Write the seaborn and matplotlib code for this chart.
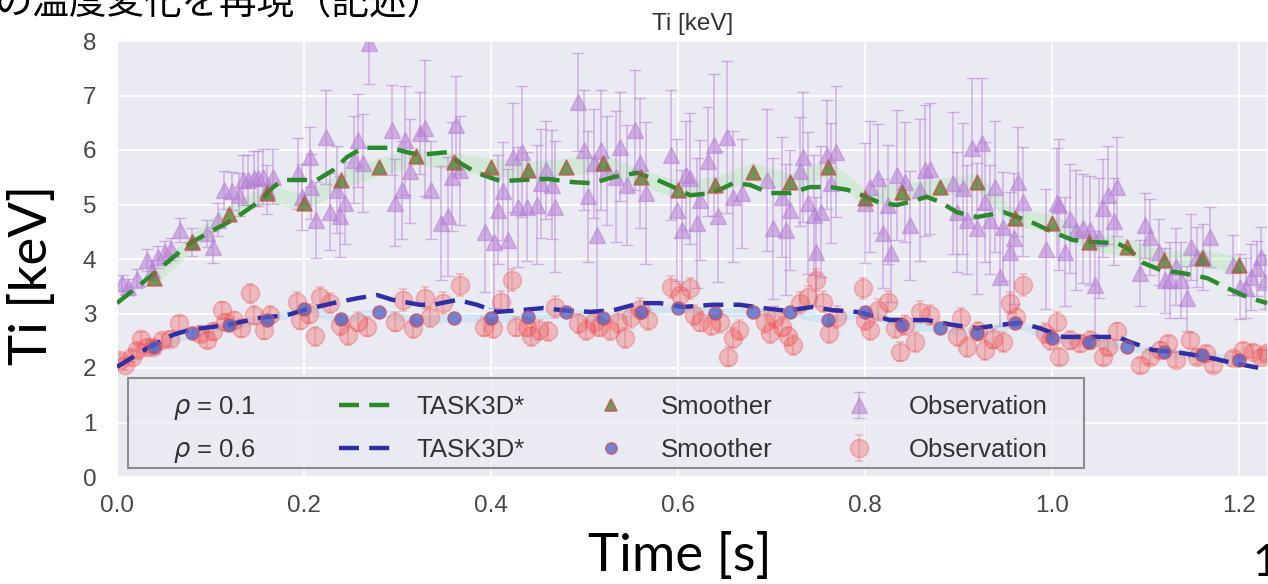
import matplotlib
matplotlib.use("Agg")
import matplotlib.pyplot as plt
from matplotlib.lines import Line2D
from matplotlib.patches import Rectangle
from matplotlib.offsetbox import DrawingArea
import numpy as np
import seaborn as sns

# ---------------- data ----------------
# rho = 0.1 : observed ion temperature (time [s], Ti [keV], error [keV])
core_obs_t = [0.005, 0.012, 0.021, 0.032, 0.037, 0.044, 0.051, 0.058, 0.067, 0.080,
              0.096, 0.103, 0.108, 0.114, 0.123, 0.131, 0.135, 0.140, 0.146, 0.151,
              0.156, 0.160, 0.167, 0.194, 0.198, 0.206, 0.207, 0.213, 0.224, 0.228,
              0.235, 0.238, 0.244, 0.253, 0.258, 0.263, 0.269, 0.294, 0.297, 0.305,
              0.308, 0.313, 0.324, 0.329, 0.336, 0.347, 0.354, 0.358, 0.363, 0.367,
              0.394, 0.403, 0.408, 0.413, 0.418, 0.424, 0.429, 0.433, 0.438, 0.449,
              0.454, 0.459, 0.465, 0.468, 0.493, 0.499, 0.504, 0.510, 0.513, 0.518,
              0.524, 0.534, 0.538, 0.545, 0.554, 0.559, 0.566, 0.593, 0.599, 0.604,
              0.609, 0.613, 0.620, 0.624, 0.632, 0.638, 0.643, 0.652, 0.659, 0.668,
              0.695, 0.702, 0.711, 0.715, 0.720, 0.730, 0.734, 0.739, 0.745, 0.748,
              0.753, 0.759, 0.764, 0.769,
              0.800, 0.805, 0.814, 0.819, 0.825, 0.828, 0.834, 0.843, 0.848, 0.859,
              0.864, 0.870, 0.894, 0.898, 0.905, 0.909, 0.914, 0.920, 0.925, 0.928,
              0.934, 0.939, 0.944, 0.948, 0.955, 0.959, 0.964, 0.969, 0.994, 1.005,
              1.008, 1.014, 1.019, 1.026, 1.033, 1.041, 1.046, 1.050, 1.055, 1.060,
              1.066, 1.069, 1.094, 1.099, 1.105, 1.114, 1.121, 1.126, 1.133, 1.138,
              1.144, 1.149, 1.155, 1.162, 1.169, 1.194, 1.201, 1.208, 1.213, 1.219,
              1.224, 1.228]
core_obs_ti = [3.56, 3.49, 3.64, 3.98, 3.80, 4.04, 4.13, 4.19, 4.53, 4.31,
               4.47, 4.22, 4.72, 5.27, 5.24, 5.18, 5.45, 5.45, 5.48, 5.48,
               5.51, 5.27, 5.51, 5.57, 5.14, 5.87, 5.33, 4.72, 6.24, 4.87,
               5.27, 4.78, 5.03, 5.82, 6.18, 5.76, 7.96, 6.37, 5.03, 5.27,
               6.18, 5.61, 6.31, 6.40, 5.27, 4.66, 4.78, 5.51, 6.46, 5.63,
               4.50, 4.31, 4.90, 5.24, 4.35, 5.87, 4.96, 5.97, 4.96, 5.00,
               5.39, 5.63, 5.36, 4.96, 6.88, 6.00, 5.15, 5.76, 4.44, 6.00,
               5.63, 5.51, 6.06, 5.36, 6.37, 5.76, 5.21, 5.91, 4.90, 4.54,
               5.54, 5.48, 4.66, 5.08, 5.79, 6.09, 4.78, 6.24, 5.14, 5.21,
               5.45, 4.56, 5.14, 4.54, 4.90, 5.61, 5.87, 5.03, 4.81, 4.13,
               4.87, 5.91, 5.39, 5.97,
               5.03, 5.33, 5.48, 4.47, 5.00, 4.11, 5.54, 5.42, 4.62, 5.27,
               5.63, 5.66, 5.39, 4.87, 5.30, 4.72, 6.03, 4.56, 6.12, 5.05,
               4.72, 5.33, 3.67, 4.59, 4.13, 4.38, 5.42, 5.05, 4.19, 5.03,
               5.00, 4.13, 4.74, 4.53, 4.56, 4.53, 3.52, 4.38, 4.93, 5.18,
               4.69, 5.33, 3.74, 4.62, 4.40, 4.13, 3.61, 3.61, 3.86, 3.61,
               3.28, 4.22, 4.04, 4.04, 4.40, 3.89, 3.49, 3.46, 3.67, 3.83,
               4.04, 3.58]
core_obs_err = [0.15, 0.15, 0.18, 0.20, 0.18, 0.20, 0.20, 0.20, 0.22, 0.25,
                0.25, 0.30, 0.30, 0.35, 0.35, 0.40, 0.45, 0.45, 0.50, 0.50,
                0.50, 0.45, 0.50, 0.65, 0.60, 0.55, 0.60, 0.70, 0.86, 0.70,
                0.80, 0.75, 0.75, 0.80, 0.85, 0.90, 0.75, 0.82, 0.80, 0.90,
                1.00, 0.95, 0.75, 1.25, 0.90, 1.05, 1.10, 1.00, 0.90, 1.00,
                1.10, 1.20, 1.00, 0.90, 1.30, 1.00, 1.10, 1.20, 1.00, 1.10,
                1.00, 0.90, 1.00, 1.20, 0.90, 1.10, 1.20, 1.00, 1.40, 1.10,
                1.00, 1.20, 1.00, 1.10, 1.10, 1.20, 1.30, 1.20, 1.30, 1.10,
                1.00, 1.20, 1.20, 1.10, 1.00, 1.30, 1.20, 1.40, 1.20, 1.00,
                1.30, 1.30, 1.10, 1.20, 1.10, 1.00, 1.20, 1.30, 1.10, 1.00,
                1.20, 1.00, 1.10, 1.20,
                1.10, 1.20, 1.00, 1.00, 1.10, 0.90, 1.20, 1.10, 1.00, 1.30,
                1.20, 1.20, 1.30, 1.10, 1.20, 1.00, 1.30, 1.20, 1.20, 1.10,
                1.00, 1.20, 0.90, 1.00, 1.10, 1.20, 1.00, 1.00, 1.10, 1.00,
                1.20, 1.00, 1.00, 1.10, 1.00, 1.00, 1.00, 1.10, 0.90, 0.90,
                0.80, 0.90, 0.60, 0.60, 0.70, 0.60, 0.60, 0.70, 0.70, 0.70,
                0.60, 0.60, 0.55, 0.60, 0.55, 0.55, 0.60, 0.55, 0.60, 0.50,
                0.55, 0.50]

# rho = 0.6 : observed ion temperature
mid_obs_t = [0.003, 0.009, 0.016, 0.021, 0.026, 0.032, 0.039, 0.048, 0.057, 0.066,
             0.089, 0.096, 0.103, 0.112, 0.116, 0.125, 0.133, 0.142, 0.146, 0.157,
             0.164, 0.192, 0.196, 0.205, 0.212, 0.217, 0.228, 0.238, 0.247, 0.258,
             0.267, 0.297, 0.306, 0.317, 0.329, 0.335, 0.349, 0.367,
             0.392, 0.402, 0.411, 0.422, 0.427, 0.438, 0.443, 0.451, 0.461, 0.468,
             0.493, 0.502, 0.510, 0.515, 0.527, 0.536, 0.543, 0.550, 0.559, 0.568,
             0.593, 0.602, 0.613, 0.617, 0.624, 0.635, 0.645, 0.654, 0.659, 0.665,
             0.693, 0.698, 0.704, 0.711, 0.718, 0.723, 0.730, 0.739, 0.748, 0.755,
             0.761, 0.770, 0.800,
             0.798, 0.805, 0.814, 0.825, 0.832, 0.837, 0.843, 0.853, 0.859, 0.870,
             0.898, 0.903, 0.909, 0.921, 0.928, 0.937, 0.948, 0.955, 0.962, 0.969,
             0.992, 0.998, 1.005, 1.008, 1.019, 1.030, 1.041, 1.055, 1.060, 1.069,
             1.094, 1.105, 1.116, 1.124, 1.133, 1.148, 1.155, 1.165, 1.172, 1.194,
             1.204, 1.215, 1.223, 1.229]
mid_obs_ti = [2.15, 2.06, 2.21, 2.33, 2.54, 2.39, 2.39, 2.51, 2.54, 2.82,
              2.63, 2.51, 2.67, 3.06, 2.85, 2.88, 2.73, 3.37, 2.97, 2.70,
              2.97, 3.21, 2.88, 3.00, 2.58, 3.31, 3.19, 2.79, 2.61, 2.85,
              2.76, 2.85, 3.25, 2.73, 3.28, 2.94, 3.19, 3.52,
              2.76, 2.73, 3.22, 3.61, 2.76, 2.76, 2.58, 2.70, 2.67, 3.12,
              2.82, 2.70, 2.85, 2.76, 2.70, 2.85, 2.55, 2.94, 3.09, 2.88,
              3.49, 3.34, 3.46, 2.97, 2.85, 2.79, 2.85, 2.21, 2.55, 2.70,
              2.85, 2.64, 2.94, 2.76, 2.58, 2.42, 3.19, 3.31, 3.61, 3.22,
              2.64, 2.94, 2.88,
              3.46, 2.70, 3.06, 3.22, 2.73, 2.30, 2.79, 2.48, 3.03, 2.97,
              2.58, 2.91, 2.39, 2.67, 2.33, 2.54, 2.48, 3.19, 2.94, 3.52,
              2.64, 2.51, 2.85, 2.21, 2.51, 2.45, 2.51, 2.21, 2.39, 2.67,
              2.05, 2.21, 2.33, 2.45, 2.15, 2.51, 2.21, 2.27, 2.05, 2.18,
              2.33, 2.30, 2.21, 2.27]
mid_obs_err = [0.10, 0.10, 0.10, 0.12, 0.12, 0.12, 0.12, 0.12, 0.14, 0.14,
               0.14, 0.15, 0.15, 0.16, 0.15, 0.15, 0.16, 0.18, 0.16, 0.16,
               0.16, 0.18, 0.17, 0.17, 0.18, 0.18, 0.18, 0.18, 0.18, 0.18,
               0.18, 0.18, 0.20, 0.18, 0.20, 0.18, 0.20, 0.20,
               0.18, 0.18, 0.20, 0.20, 0.18, 0.18, 0.18, 0.18, 0.18, 0.20,
               0.18, 0.18, 0.20, 0.18, 0.18, 0.20, 0.18, 0.20, 0.20, 0.18,
               0.20, 0.20, 0.20, 0.18, 0.18, 0.18, 0.20, 0.18, 0.18, 0.18,
               0.20, 0.18, 0.20, 0.18, 0.18, 0.18, 0.20, 0.20, 0.20, 0.20,
               0.18, 0.20, 0.18,
               0.20, 0.18, 0.20, 0.20, 0.18, 0.18, 0.18, 0.18, 0.20, 0.18,
               0.18, 0.20, 0.18, 0.18, 0.18, 0.18, 0.18, 0.20, 0.18, 0.20,
               0.18, 0.18, 0.18, 0.16, 0.16, 0.16, 0.16, 0.16, 0.16, 0.16,
               0.14, 0.14, 0.14, 0.14, 0.14, 0.14, 0.14, 0.14, 0.12, 0.12,
               0.12, 0.12, 0.12, 0.12]

# smoother estimates (every 40 ms)
smooth_t = [0.04, 0.08, 0.12, 0.16, 0.20, 0.24, 0.28, 0.32, 0.36, 0.40,
            0.44, 0.48, 0.52, 0.56, 0.60, 0.64, 0.68, 0.72, 0.76, 0.80,
            0.84, 0.88, 0.92, 0.96, 1.00, 1.04, 1.08, 1.12, 1.16, 1.20]
core_smooth_ti = [3.65, 4.31, 4.83, 5.21, 5.03, 5.45, 5.69, 5.89, 5.78, 5.69,
                  5.63, 5.69, 5.76, 5.50, 5.27, 5.36, 5.60, 5.41, 5.69, 5.12,
                  5.23, 5.32, 5.41, 4.75, 4.66, 4.31, 4.22, 3.98, 4.02, 3.89]
mid_smooth_ti = [2.39, 2.64, 2.79, 2.88, 3.08, 2.90, 3.03, 2.88, 2.92, 2.92,
                 2.94, 3.03, 2.92, 3.03, 3.10, 3.01, 3.03, 3.03, 2.88, 3.03,
                 2.79, 2.73, 2.64, 2.83, 2.55, 2.48, 2.39, 2.29, 2.24, 2.15]
core_band = 0.16
mid_band = 0.08

# TASK3D* simulation
core_sim_t = [0.0, 0.035, 0.078, 0.103, 0.124, 0.150, 0.167, 0.178, 0.196, 0.214,
              0.231, 0.246, 0.263, 0.292, 0.310, 0.324, 0.353, 0.367, 0.385, 0.410,
              0.434, 0.460, 0.488, 0.509, 0.530, 0.556, 0.578, 0.595, 0.613, 0.637,
              0.659, 0.677, 0.698, 0.720, 0.741, 0.763, 0.781, 0.800, 0.816, 0.834,
              0.848, 0.866, 0.880, 0.898, 0.920, 0.948, 0.963, 0.980, 1.000, 1.022,
              1.044, 1.070, 1.083, 1.097, 1.116, 1.140, 1.166, 1.187, 1.209, 1.230]
core_sim_ti = [3.19, 3.67, 4.29, 4.53, 4.72, 5.03, 5.32, 5.45, 5.45, 5.45,
               5.63, 5.87, 6.04, 6.04, 5.96, 5.91, 5.96, 5.76, 5.58, 5.43,
               5.45, 5.47, 5.41, 5.39, 5.50, 5.58, 5.45, 5.32, 5.17, 5.21,
               5.39, 5.36, 5.21, 5.21, 5.32, 5.32, 5.27, 5.15, 5.03, 4.99,
               5.05, 5.14, 5.05, 4.86, 4.77, 4.86, 4.77, 4.66, 4.50, 4.35,
               4.31, 4.29, 4.17, 3.93, 3.80, 3.74, 3.65, 3.47, 3.30, 3.19]
mid_sim_t = [0.0, 0.035, 0.060, 0.078, 0.118, 0.153, 0.182, 0.199, 0.231, 0.257,
             0.278, 0.295, 0.324, 0.338, 0.364, 0.385, 0.406, 0.431, 0.456, 0.477,
             0.506, 0.531, 0.559, 0.581, 0.605, 0.637, 0.666, 0.691, 0.716, 0.744,
             0.766, 0.791, 0.813, 0.827, 0.866, 0.894, 0.920, 0.944, 0.966, 0.987,
             1.012, 1.037, 1.070, 1.083, 1.108, 1.137, 1.166, 1.194, 1.222]
mid_sim_ti = [2.02, 2.39, 2.61, 2.70, 2.79, 2.92, 2.97, 3.06, 3.19, 3.28,
              3.34, 3.25, 3.16, 3.16, 3.25, 3.16, 3.03, 3.06, 3.10, 3.06,
              3.03, 3.06, 3.19, 3.19, 3.12, 3.16, 3.16, 3.10, 3.05, 3.12,
              3.06, 3.03, 2.94, 2.88, 2.88, 2.79, 2.73, 2.79, 2.83, 2.73,
              2.57, 2.57, 2.57, 2.48, 2.33, 2.28, 2.20, 2.09, 2.00]

x_ticks = [0.0, 0.2, 0.4, 0.6, 0.8, 1.0, 1.2]
y_ticks = [0, 1, 2, 3, 4, 5, 6, 7, 8]
legend_labels = [r"$\rho$ = 0.1", r"$\rho$ = 0.6", "TASK3D*", "TASK3D*",
                 "Smoother", "Smoother", "Observation", "Observation"]

# ---------------- style ----------------
sns.set_theme(style="darkgrid")
plt.rcParams["font.family"] = ["Liberation Sans", "DejaVu Sans"]
plt.rcParams["axes.facecolor"] = "#EAEAF2"

GREEN = "#2b8a2b"
BLUE = "#2e2ea6"
PURPLE = "#b77fd6"
RED = "#f04848"
DASH = (0, (4.5, 2.3))

W, H = 1268, 584
AX_L, AX_T, AX_B = 117, 41, 477
fig = plt.figure(figsize=(W / 100, H / 100), dpi=100)
ax = fig.add_axes([AX_L / W, (H - AX_B) / H, (W - AX_L) / W, (AX_B - AX_T) / H])

# smoother uncertainty bands
st = np.array(smooth_t)
cs = np.array(core_smooth_ti)
ms_ = np.array(mid_smooth_ti)
ax.fill_between(st, cs - core_band, cs + core_band, color="#9fe79a", alpha=0.3,
                lw=0, zorder=1)
ax.fill_between(st, ms_ - mid_band, ms_ + mid_band, color="#a8d8f0", alpha=0.35,
                lw=0, zorder=1)

# observations with error bars
obs_core = ax.errorbar(core_obs_t, core_obs_ti, yerr=core_obs_err, fmt="^",
                       color=PURPLE, ecolor=PURPLE, alpha=0.55, ms=11, mew=1,
                       elinewidth=1.1, capsize=4, capthick=1.1, zorder=2)
obs_mid = ax.errorbar(mid_obs_t, mid_obs_ti, yerr=mid_obs_err, fmt="o",
                      color=RED, ecolor=RED, alpha=0.3, ms=13, mew=1.2,
                      elinewidth=1.1, capsize=3, capthick=1.1, zorder=2)

# TASK3D* simulated traces
sns.lineplot(x=core_sim_t, y=core_sim_ti, ax=ax, color=GREEN, lw=3.2,
             linestyle=DASH, zorder=4)
sns.lineplot(x=mid_sim_t, y=mid_sim_ti, ax=ax, color=BLUE, lw=3.2,
             linestyle=DASH, zorder=4)

# smoother estimates
sns.scatterplot(x=smooth_t, y=core_smooth_ti, ax=ax, marker="^", s=110,
                color="#4f7d2a", edgecolor="#c0504d", linewidth=1.3, alpha=0.75,
                zorder=5)
sns.scatterplot(x=smooth_t, y=mid_smooth_ti, ax=ax, marker="o", s=85,
                color="#5060c8", edgecolor="#c0506a", linewidth=1.3, alpha=0.75,
                zorder=5)

ax.set_xlim(0, (W - AX_L) / 935)
ax.set_ylim(0, 8)
ax.set_xticks(x_ticks)
ax.set_xticklabels([f"{v:.1f}" for v in x_ticks])
ax.set_yticks(y_ticks)
ax.set_yticklabels([str(v) for v in y_ticks])
ax.tick_params(axis="both", labelsize=17.5, colors=".28")
ax.tick_params(axis="y", pad=9)
ax.tick_params(axis="x", pad=7)
ax.grid(color="white", lw=1.3)
ax.set_xlabel("")
ax.set_ylabel("")
ax.set_title("Ti [keV]", fontsize=17.5, color=".2", pad=8)

# legend frame, drawn as a panel so its extent is fixed
ax_w, ax_h = W - AX_L, AX_B - AX_T
panel = Rectangle(((128 - AX_L) / ax_w, (AX_B - 468) / ax_h),
                  (1084 - 128) / ax_w, (468 - 378) / ax_h,
                  transform=ax.transAxes, facecolor="#EAEAF2", alpha=0.7,
                  edgecolor="none", zorder=6, clip_on=False)
ax.add_patch(panel)
border = Rectangle(((128 - AX_L) / ax_w, (AX_B - 468) / ax_h),
                   (1084 - 128) / ax_w, (468 - 378) / ax_h,
                   transform=ax.transAxes, facecolor="none", edgecolor="#8c8c8c",
                   lw=1.5, zorder=6.5, clip_on=False)
ax.add_patch(border)

empty = Line2D([], [], linestyle="none")
empty2 = Line2D([], [], linestyle="none")
sim_core_h = Line2D([], [], color=GREEN, lw=3.2, linestyle=DASH)
sim_mid_h = Line2D([], [], color=BLUE, lw=3.2, linestyle=DASH)
sm_core_h = Line2D([], [], marker="^", ls="none", ms=9, mfc="#4f7d2a",
                   mec="#c0504d", mew=1.3, alpha=0.75)
sm_mid_h = Line2D([], [], marker="o", ls="none", ms=8, mfc="#5060c8",
                  mec="#c0506a", mew=1.3, alpha=0.75)
handles = [empty, empty2, sim_core_h, sim_mid_h, sm_core_h, sm_mid_h,
           obs_core, obs_mid]
LEG_FS = 18.5
LEG_SPACING = 0.72
leg = ax.legend(handles, legend_labels, ncol=4, loc="upper left",
                bbox_to_anchor=((128 - AX_L) / ax_w, (AX_B - 384) / ax_h),
                borderaxespad=0, fontsize=LEG_FS,
                handlelength=2.1, handletextpad=0.9, columnspacing=2.3,
                labelspacing=LEG_SPACING, borderpad=0.4, frameon=False,
                numpoints=1)
leg.set_zorder(7)
for txt in leg.get_texts():
    txt.set_color(".2")
columns = leg._legend_handle_box.get_children()
# first column carries only the rho labels: no handle, just padding around text
for item in columns[0].get_children():
    text_box = item.get_children()[1]
    item._children = [DrawingArea(25, 1), text_box, DrawingArea(18, 1)]
    item.sep = 0
# keep the rho rows level with the other columns
columns[0].sep = LEG_SPACING * LEG_FS - 3.0

# slide texts
fig.text(32 / W, 1 - 275 / H, "Ti [keV]", rotation=90, ha="center",
         va="center", fontsize=38, family=["Lato", "DejaVu Sans"], color="black")
fig.text(680 / W, 13 / H, "Time [s]", ha="center", va="baseline", fontsize=38,
         family=["Lato", "DejaVu Sans"], color="black")
fig.text(-5 / W, 1 - 13 / H, "の温度変化を再現（記述）", ha="left", va="baseline",
         fontsize=27, family=["Noto Sans CJK JP", "DejaVu Sans"], color="black")
fig.text(1252 / W, 8 / H, "1", ha="left", va="baseline", fontsize=32,
         family=["Lato", "DejaVu Sans"], color="black")

fig.savefig("out.png", dpi=100)
